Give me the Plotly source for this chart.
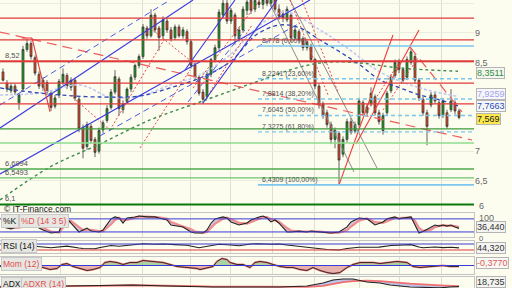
import plotly.graph_objects as go
import numpy as np

# ---------------- data ----------------
candle_idx = list(range(115))
opens = [8.34,8.15,8.02,8.10,7.82,8.05,8.72,8.82,8.58,8.30,
         8.08,8.16,7.98,7.76,7.95,8.16,8.28,8.08,8.20,7.88,
         7.40,7.08,7.42,7.20,7.00,7.36,7.52,7.74,8.00,8.22,
         7.70,7.84,8.05,8.25,8.45,8.60,9.08,8.95,9.30,9.08,
         8.95,9.20,9.05,8.92,9.10,8.95,9.02,8.85,8.45,8.25,
         8.00,7.92,8.30,8.55,8.75,9.30,9.50,9.20,9.30,8.90,
         9.05,9.38,9.55,9.40,9.52,9.48,9.55,9.50,9.56,9.40,
         9.32,9.22,9.30,8.92,9.02,8.90,8.75,8.78,8.55,8.10,
         7.80,7.65,7.45,7.20,7.30,6.95,7.20,7.50,7.34,7.45,
         7.82,7.65,7.80,7.92,7.65,7.35,7.65,8.02,8.28,8.50,
         8.38,8.25,8.50,8.60,8.20,7.88,7.65,7.78,7.95,7.82,
         7.60,7.65,7.70,7.82,7.68]
highs = [8.40,8.20,8.15,8.14,7.98,8.78,8.90,8.86,8.62,8.35,
         8.25,8.20,8.02,7.95,8.22,8.40,8.32,8.25,8.24,7.92,
         7.45,7.50,7.46,7.24,7.40,7.52,7.78,8.05,8.37,8.26,
         7.86,8.08,8.30,8.48,8.64,9.15,9.12,9.40,9.34,9.12,
         9.28,9.25,9.10,9.14,9.14,9.10,9.06,8.88,8.50,8.28,
         8.05,8.35,8.58,8.80,9.40,9.56,9.56,9.42,9.34,9.10,
         9.45,9.58,9.58,9.60,9.62,9.60,9.62,9.62,9.60,9.48,
         9.38,9.45,9.34,9.10,9.06,8.94,8.90,8.82,8.58,8.14,
         7.84,7.70,7.50,7.40,7.34,7.25,7.55,7.56,7.50,7.90,
         7.86,7.80,8.08,7.96,7.70,7.65,8.02,8.30,8.55,8.56,
         8.42,8.60,8.74,8.64,8.24,7.92,7.70,8.00,8.00,7.86,
         7.90,7.70,8.05,7.86,7.72]
lows = [8.18,8.00,7.98,7.95,7.70,8.00,8.68,8.55,8.28,8.05,
        8.02,7.95,7.68,7.72,7.90,8.12,8.05,8.02,7.85,7.32,
        6.88,7.02,7.12,6.90,6.96,7.30,7.48,7.70,7.96,7.60,
        7.64,7.80,8.00,8.20,8.40,8.56,8.90,8.92,9.00,8.70,
        8.90,9.00,8.85,8.88,8.92,8.90,8.80,8.40,8.20,7.94,
        7.80,7.88,8.25,8.50,8.70,9.25,9.15,9.15,8.80,8.85,
        9.00,9.30,9.32,9.35,9.42,9.40,9.45,9.44,9.35,9.22,
        9.18,9.18,8.85,8.88,8.82,8.70,8.70,8.50,8.05,7.72,
        7.55,7.40,7.12,7.05,6.43,6.90,7.15,7.28,7.30,7.40,
        7.60,7.60,7.76,7.60,7.45,7.28,7.60,7.98,8.24,8.32,
        8.15,8.20,8.46,8.15,7.85,7.60,7.10,7.74,7.80,7.55,
        7.56,7.38,7.66,7.62,7.54]
closes = [8.20,8.05,8.10,8.00,7.95,8.72,8.82,8.60,8.32,8.10,
          8.20,8.00,7.74,7.90,8.18,8.30,8.10,8.20,7.90,7.38,
          7.05,7.45,7.18,6.98,7.35,7.48,7.72,8.00,8.26,7.72,
          7.80,8.05,8.25,8.45,8.60,9.10,8.95,9.30,9.05,8.92,
          9.22,9.05,8.90,9.10,8.95,9.05,8.85,8.45,8.25,7.98,
          7.88,8.30,8.55,8.75,9.35,9.50,9.20,9.38,8.95,9.05,
          9.40,9.52,9.38,9.55,9.48,9.56,9.50,9.58,9.40,9.28,
          9.25,9.40,8.92,9.05,8.88,8.75,8.85,8.55,8.10,7.78,
          7.60,7.45,7.20,7.35,6.85,7.20,7.50,7.32,7.45,7.85,
          7.65,7.75,7.98,7.65,7.50,7.60,7.98,8.25,8.50,8.38,
          8.20,8.55,8.68,8.20,7.90,7.65,7.42,7.95,7.85,7.60,
          7.85,7.42,7.85,7.68,7.569]

month_grid = [14.25, 24.25, 34.75, 46.75, 56.75, 67.25, 77.75, 89, 99, 109.5]
price_ticks = [6.5, 7, 8.5, 9, 9.5]
price_tick_text = ["6,5", "7", "8,5", "9", "9,5"]
price_bottom_tick = (6, "6")
stoch_ticks = [(100, "100"), (0, "0")]

red_levels = [9.25, 8.88, 8.52, 8.15, 7.80]
green_levels = [7.378, 7.14, 6.6994, 6.5493, 6.1]
left_labels = [(8.52, "8,52"), (6.6994, "6,6994"), (6.5493, "6,5493"), (6.1, "6,1")]

fib_start = 63.75
fib_levels = [8.778, 8.2241, 7.8814, 7.6045, 7.3275, 6.4309]
fib_pct = ["0,00%", "23,60%", "38,20%", "50,00%", "61,80%", "100,00%"]
fib_text = ["8,778", "8,2241", "7,8814", "7,6045", "7,3275", "6,4309"]

# trend lines: ((x0, y0), (x1, y1)) in candle index / price
blue_solid = [((-0.75, 7.393), (47.5, 9.555)),
              ((-0.75, 6.616), (76.75, 9.555)),
              ((50, 7.815), (68.5, 9.555)),
              ((45.5, 8.373), (58, 9.555))]
blue_dashed = [((-0.75, 7.781), (41.75, 9.555)),
               ((24.25, 7.258), (74.25, 9.167)),
               ((46.25, 7.832), (60.5, 9.048))]
red_long_dash = [((-0.75, 9.014), (117.25, 7.190)),
                 ((101.75, 8.761), (114.75, 7.663))]
red_solid = [((4.75, 8.913), (7.25, 8.913)),
             ((7.25, 8.913), (11.75, 7.663)),
             ((84, 6.431), (97.5, 8.964)),
             ((88.25, 7.123), (104, 9.048))]
red_dotted = [((16.75, 7.95), (26.75, 7.36)),
              ((26.75, 7.36), (40.5, 8.91)),
              ((34.25, 7.055), (46.75, 8.373)),
              ((36.75, 9.082), (48.5, 8.44)),
              ((47.5, 8.069), (64.25, 9.555)),
              ((51.75, 8.0), (62.25, 9.133)),
              ((71.75, 9.555), (81.25, 7.95)),
              ((74.75, 9.555), (83.75, 8.0)),
              ((95, 7.697), (103.75, 8.575)),
              ((90.75, 7.646), (99, 8.491))]
gray_solid = [((71.75, 9.555), (93.5, 6.717)),
              ((66.25, 9.555), (87.75, 6.65))]

# moving averages
ma_blue_x = [-0.75, 6.75, 14.25, 24.25, 34.25, 41.75, 49.25, 56.75, 63.25, 69.25,
             74.25, 79.25, 84.25, 89.25, 94.25, 99.25, 104.25, 109.25, 113.75]
ma_blue_y = [8.069, 8.001, 7.950, 7.916, 7.933, 8.069, 8.237, 8.508, 8.964, 9.133,
             9.082, 8.879, 8.677, 8.457, 8.204, 8.069, 7.950, 7.866, 7.766]
ma_lav_x = [-0.75, 9.25, 19.25, 26.75, 34.25, 41.75, 49.25, 56.75, 64.25, 70.5,
            79.25, 86.75, 94.25, 104.25, 113.75]
ma_lav_y = [7.950, 7.984, 8.119, 7.916, 7.933, 8.119, 8.288, 8.626, 9.133, 9.352,
            9.048, 8.710, 8.339, 8.069, 7.926]
ma_green_x = [-0.75, 11.75, 24.25, 36.75, 49.25, 63.25, 74.25, 81.75, 89.25, 99.25, 113.75]
ma_green_y = [6.177, 6.734, 7.123, 7.528, 7.832, 8.170, 8.423, 8.508, 8.491, 8.406, 8.351]

# stochastic
st_x = [0,2,4,6,8,10,12,14,15,16,17,19,20,21,22,24,25,27,28,29,30,31,33,34,36,38,39,41,42,44,
        45,47,48,50,51,52,53,55,56,57,59,61,62,64,65,66,67,68,69,71,72,74,76,77,79,81,82,84,86,87,
        89,91,93,95,96,98,99,100,102,103,104,105,107,108,109,110,111,112,113,114]
st_k = [43,34,47,52,47,29,15,20,70,84,61,20,29,38,24,20,29,80,89,84,61,84,89,93,89,89,84,75,52,47,
        43,20,15,15,29,60,80,89,84,66,52,61,75,89,93,84,66,75,60,20,20,24,20,24,20,15,15,20,43,66,
        84,80,52,66,80,89,80,84,89,52,15,22,43,52,47,52,47,52,43,36.44]
st_d = [45,38,40,48,49,38,22,17,40,60,70,40,28,30,30,24,24,55,75,85,75,75,85,90,90,89,87,80,65,52,
        46,32,22,17,20,38,58,80,86,78,62,58,65,80,88,88,78,74,67,38,26,22,22,22,22,18,16,17,28,45,
        72,82,65,62,70,84,84,84,86,70,38,25,30,42,48,50,49,50,47,42]

# RSI
rsi_x = [0,4,8,12,14,16,19,20,23,24,27,29,32,35,38,40,43,46,49,52,54,57,59,62,64,67,69,71,74,78,
         81,84,86,89,91,94,97,99,102,104,105,108,110,112,114]
rsi_v = [50,52,55,45,50,56,43,40,38,45,60,55,63,72,68,70,66,62,45,56,68,63,58,70,72,68,70,63,54,40,
         33,30,40,48,50,49,60,64,66,50,45,50,46,48,44.32]

# Momentum (12)
mom_x = [-0.75,4,8.5,10,11.75,13.5,14.75,16,17.5,19.25,21,22.5,24.25,25.5,26.75,28.5,30,31.75,33.5,35,
         37.5,40,41.75,43.5,46,48.5,49.25,51,52.5,53.5,54.75,56,56.75,58.5,60,61.75,63,64.25,66,67.5,
         69.25,71,72.5,74.25,76,77.5,79.25,81,82.5,84.25,86,87.5,89.25,91,92.5,94.25,96,98.5,101,102.5,
         104.25,106.75,108.5,110,111.75,114]
mom_v = [-0.3,-0.3,-0.37,-0.74,-1.5,-1.1,0.37,0.74,-0.37,-1.1,-1.85,-1.5,-0.74,1.1,1.5,1.1,0.37,1.1,1.1,1.85,
         1.5,1.1,0.37,-0.37,-0.74,-1.1,-1.5,-0.74,-0.37,1.5,2.6,2.2,1.1,0.37,0.37,-0.74,1.1,1.5,1.1,0.37,
         -0.37,-0.74,-0.74,-1.5,-1.85,-0.74,-1.85,-2.6,-3.0,-2.6,-0.74,0.37,1.1,1.1,1.1,0.74,1.1,1.5,1.1,-0.37,
         -0.74,-0.37,-0.37,0.0,-0.37,-0.377]

# ADX / ADXR
adx_x = [-0.75,16,24.25,32.5,41,48.5,52.5,61,69.25,76,80,82.5,85,87.5,91,94.25,96.75,101.75,109.25,111.75,114]
adx_v = [17.7,20.5,23.2,23.2,20.5,17.7,17.7,17.7,17.7,20.5,28.6,36.8,39.6,39.6,31.4,28.6,23.2,17.7,15.5,17.7,18.735]
adxr_v = [18.5,19.0,21.0,22.5,22.0,20.0,19.0,18.0,17.5,18.0,21.0,26.0,31.0,33.5,35.0,34.0,31.0,27.0,22.0,20.5,20.0]

# ---------------- figure ----------------
W, H = 512, 288
PW = 474 / W
X0, X1 = -0.75, 117.75
BG = "#fcfcef"
FONT = "Liberation Sans, Arial, sans-serif"
BLUE = "#3b3bd6"
RED = "#e23a3a"

def pdom(top, bottom):
    return [1 - bottom / H, 1 - top / H]

fig = go.Figure()

fig.add_trace(go.Candlestick(
    x=candle_idx, open=opens, high=highs, low=lows, close=closes,
    increasing=dict(fillcolor="#1c9c1c", line=dict(color="#3c3c3c", width=0.8)),
    decreasing=dict(fillcolor="#e2461c", line=dict(color="#3c3c3c", width=0.8)),
    whiskerwidth=0, xaxis="x", yaxis="y", showlegend=False, hoverinfo="skip"))

def add_segments(segs, color, width, dash):
    for (a, b) in segs:
        fig.add_trace(go.Scatter(x=[a[0], b[0]], y=[a[1], b[1]], mode="lines",
                                 line=dict(color=color, width=width, dash=dash),
                                 xaxis="x", yaxis="y", showlegend=False, hoverinfo="skip"))

# moving averages
fig.add_trace(go.Scatter(x=ma_lav_x, y=ma_lav_y, mode="lines", line=dict(color="#c2c8f2", width=1.6, dash="3px,2px"),
                         line_shape="spline", xaxis="x", yaxis="y", showlegend=False, hoverinfo="skip"))
fig.add_trace(go.Scatter(x=ma_green_x, y=ma_green_y, mode="lines", line=dict(color="#3d8a4d", width=1.4, dash="3px,3px"),
                         line_shape="spline", xaxis="x", yaxis="y", showlegend=False, hoverinfo="skip"))
fig.add_trace(go.Scatter(x=ma_blue_x, y=ma_blue_y, mode="lines", line=dict(color="#2a46b8", width=1.3, dash="4px,3px"),
                         line_shape="spline", xaxis="x", yaxis="y", showlegend=False, hoverinfo="skip"))

add_segments(gray_solid, "#8a8a8a", 1, "solid")
add_segments(red_dotted, "#e84848", 1, "2px,2px")
add_segments(red_long_dash, "#ee5a5a", 1.2, "10px,6px")
add_segments(blue_dashed, "#4a5ae6", 1, "6px,4px")
add_segments(blue_solid, "#3a3ae0", 1.1, "solid")
add_segments(red_solid, "#ee3a3a", 1.1, "solid")

shapes = []
for lv in red_levels:
    shapes.append(dict(type="line", xref="x domain", yref="y", x0=0, x1=1, y0=lv, y1=lv,
                       line=dict(color=RED, width=2.2 if lv == 8.52 else 1.2)))
green_cols = ["#3d9a3d", "#8ede8e", "#4caa4c", "#6cc46c", "#0b7a0b"]
green_w = [1.2, 1.4, 1.4, 1.4, 2.2]
for lv, c, w in zip(green_levels, green_cols, green_w):
    shapes.append(dict(type="line", xref="x domain", yref="y", x0=0, x1=1, y0=lv, y1=lv,
                       line=dict(color=c, width=w)))
for k, lv in enumerate(fib_levels):
    solid = (k == 0 or k == len(fib_levels) - 1)
    shapes.append(dict(type="line", xref="x", yref="y", x0=fib_start, x1=X1, y0=lv, y1=lv,
                       line=dict(color="#7cc6ee", width=1.6 if solid else 1.4,
                                 dash="solid" if solid else "4px,3px")))

# ---- stochastic panel ----
fig.add_trace(go.Scatter(x=st_x, y=st_d, mode="lines", line=dict(color="#f08c8c", width=2.2),
                         xaxis="x2", yaxis="y2", showlegend=False, hoverinfo="skip"))
fig.add_trace(go.Scatter(x=st_x, y=st_k, mode="lines", line=dict(color="#222222", width=1.1),
                         fill="tonexty", fillcolor="rgba(160,140,215,0.45)",
                         xaxis="x2", yaxis="y2", showlegend=False, hoverinfo="skip"))
for lv in (80, 20):
    shapes.append(dict(type="line", xref="x2 domain", yref="y2", x0=0, x1=1, y0=lv, y1=lv,
                       line=dict(color=BLUE, width=1)))

# ---- RSI panel ----
shapes.append(dict(type="line", xref="x3 domain", yref="y3", x0=0, x1=1, y0=70, y1=70, line=dict(color=BLUE, width=1.2)))
shapes.append(dict(type="line", xref="x3 domain", yref="y3", x0=0, x1=1, y0=30, y1=30, line=dict(color=RED, width=1.2)))
fig.add_trace(go.Scatter(x=rsi_x, y=rsi_v, mode="lines", line=dict(color="#222222", width=1.1),
                         xaxis="x3", yaxis="y3", showlegend=False, hoverinfo="skip"))

# ---- Momentum panel ----
mom_arr = np.array(mom_v)
fig.add_trace(go.Scatter(x=mom_x, y=np.maximum(mom_arr, 0), mode="lines", line=dict(width=0),
                         fill="tozeroy", fillcolor="rgba(110,185,110,0.6)",
                         xaxis="x4", yaxis="y4", showlegend=False, hoverinfo="skip"))
fig.add_trace(go.Scatter(x=mom_x, y=np.minimum(mom_arr, 0), mode="lines", line=dict(width=0),
                         fill="tozeroy", fillcolor="rgba(215,130,130,0.6)",
                         xaxis="x4", yaxis="y4", showlegend=False, hoverinfo="skip"))
shapes.append(dict(type="line", xref="x4 domain", yref="y4", x0=0, x1=1, y0=0, y1=0, line=dict(color=BLUE, width=1.2)))
fig.add_trace(go.Scatter(x=mom_x, y=mom_v, mode="lines", line=dict(color="#f08080", width=2),
                         xaxis="x4", yaxis="y4", showlegend=False, hoverinfo="skip"))
fig.add_trace(go.Scatter(x=mom_x, y=mom_v, mode="lines", line=dict(color="#222222", width=0.9),
                         xaxis="x4", yaxis="y4", showlegend=False, hoverinfo="skip"))

# ---- ADX panel ----
fig.add_trace(go.Scatter(x=adx_x, y=adxr_v, mode="lines", line=dict(color="#f07070", width=1.8),
                         xaxis="x5", yaxis="y5", showlegend=False, hoverinfo="skip"))
fig.add_trace(go.Scatter(x=adx_x, y=adx_v, mode="lines", line=dict(color="#222222", width=1.1),
                         fill="tonexty", fillcolor="rgba(130,140,230,0.5)",
                         xaxis="x5", yaxis="y5", showlegend=False, hoverinfo="skip"))

# ---- axes ----
xcommon = dict(range=[X0, X1], domain=[0, PW], showticklabels=False, tickvals=month_grid,
               showgrid=True, gridcolor="#deded2", gridwidth=1, zeroline=False, ticks="",
               fixedrange=True)
frame = dict(showline=True, mirror=True, linecolor="#c4c4c4", linewidth=1)
layout = dict(
    width=W, height=H, autosize=False,
    margin=dict(l=0, r=0, t=0, b=0, pad=0),
    paper_bgcolor=BG, plot_bgcolor=BG,
    font=dict(family=FONT, size=9, color="#555555"),
    showlegend=False, shapes=shapes,
    xaxis=dict(**xcommon, anchor="y", rangeslider=dict(visible=False)),
    yaxis=dict(domain=pdom(0, 211), range=[5.99, 9.555], side="right", anchor="x",
               tickvals=price_ticks, ticktext=price_tick_text, showgrid=True, gridcolor="#ebebdf",
               zeroline=False, ticks="", tickfont=dict(size=9, color="#666666"), fixedrange=True),
)
panels = [(2, 213, 237, [-3.2, 107]), (3, 241, 253, [10, 90]), (4, 257, 274, [-3.15, 3.15]), (5, 277, 288, [15, 45])]
for n, top, bot, rng in panels:
    layout[f"xaxis{n}"] = dict(**xcommon, anchor=f"y{n}", **frame)
    layout[f"yaxis{n}"] = dict(domain=pdom(top, bot), range=rng, side="right", anchor=f"x{n}",
                               showgrid=False, zeroline=False, ticks="", fixedrange=True,
                               showticklabels=False, **frame)
fig.update_layout(**layout)

ann = []
TXT_X = 477 / W
# bottom price tick and stochastic scale labels
ann.append(dict(x=TXT_X, y=price_bottom_tick[0], xref="paper", yref="y", text=price_bottom_tick[1],
                showarrow=False, xanchor="left", yanchor="middle", yshift=4, font=dict(size=9, color="#666666")))
ann.append(dict(x=TXT_X, y=stoch_ticks[0][0], xref="paper", yref="y2", text=stoch_ticks[0][1],
                showarrow=False, xanchor="left", yanchor="middle", yshift=-3, font=dict(size=9, color="#666666")))
ann.append(dict(x=TXT_X, y=stoch_ticks[1][0], xref="paper", yref="y2", text=stoch_ticks[1][1],
                showarrow=False, xanchor="left", yanchor="middle", yshift=-2, font=dict(size=7.5, color="#666666")))
# fib labels
for lv, t, p in zip(fib_levels, fib_text, fib_pct):
    ann.append(dict(x=fib_start + 0.5, y=lv, xref="x", yref="y", text=f"{t} ({p})", showarrow=False,
                    xanchor="left", yanchor="bottom", yshift=-1, font=dict(size=7, color="#505050")))
for lv, t in left_labels:
    ann.append(dict(x=3 / W, y=lv, xref="paper", yref="y", text=t, showarrow=False,
                    xanchor="left", yanchor="bottom", yshift=-1, font=dict(size=7.5, color="#505050")))
ann.append(dict(x=2 / W, y=pdom(0, 211)[0], xref="paper", yref="paper", text="© IT-Finance.com",
                showarrow=False, xanchor="left", yanchor="middle", yshift=2, font=dict(size=8.5, color="#222222")))

# right value boxes
box = dict(xref="paper", x=476 / W, xanchor="left", showarrow=False, bordercolor="#b4b4b4",
           borderwidth=1, borderpad=0)
ann.append(dict(**box, y=8.3511, yref="y", yshift=-2, text="8,3511", bgcolor="#f6f6f0", font=dict(size=9, color="#2f8f3f")))
ann.append(dict(**box, y=7.9259, yref="y", yshift=2, text="7,9259", bgcolor="#f6f6fb", font=dict(size=9, color="#a0a4ea")))
ann.append(dict(**box, y=7.7663, yref="y", text="7,7663", bgcolor="#f6f6f6", font=dict(size=9, color="#2a50c0")))
ann.append(dict(**box, y=7.569, yref="y", yshift=-1, text="7,569", bgcolor="#ffe84a", font=dict(size=9, color="#222222")))
ann.append(dict(**box, y=st_k[-1], yref="y2", yshift=1, text="36,440", bgcolor="#f4f4f0", font=dict(size=9, color="#333333")))
ann.append(dict(**box, y=rsi_v[-1], yref="y3", text="44,320", bgcolor="#f4f4f0", font=dict(size=9, color="#333333")))
ann.append(dict(**box, y=mom_v[-1], yref="y4", yshift=4, text="-0,3770", bgcolor="#f8f8f4", font=dict(size=9, color="#e05858")))
ann.append(dict(**box, y=adx_v[-1], yref="y5", yshift=5, text="18,735", bgcolor="#f4f4f0", font=dict(size=9, color="#333333")))

# panel labels
lab = dict(xref="paper", showarrow=False, xanchor="left", yanchor="top", bgcolor="#e6e6e2",
           bordercolor="#c8c8c8", borderwidth=1, borderpad=1)
ann.append(dict(**lab, x=1 / W, y=1, yref="y2 domain", yshift=-1, text="%K", font=dict(size=8.5, color="#111111")))
ann.append(dict(**lab, x=19 / W, y=1, yref="y2 domain", yshift=-1, text="%D (14 3 5)", font=dict(size=8.5, color="#e05050")))
ann.append(dict(**lab, x=1 / W, y=1, yref="y3 domain", yshift=2, text="RSI (14)", font=dict(size=8.5, color="#111111")))
ann.append(dict(**lab, x=1 / W, y=1, yref="y4 domain", yshift=0, text="Mom (12)", font=dict(size=8.5, color="#e05050")))
ann.append(dict(**lab, x=1 / W, y=1, yref="y5 domain", yshift=0, text="ADX", font=dict(size=8.5, color="#111111")))
ann.append(dict(**lab, x=21 / W, y=1, yref="y5 domain", yshift=0, text="ADXR (14)", font=dict(size=8.5, color="#e05050")))

fig.update_layout(annotations=ann)
fig.write_html("out.html", config={"displayModeBar": False})
